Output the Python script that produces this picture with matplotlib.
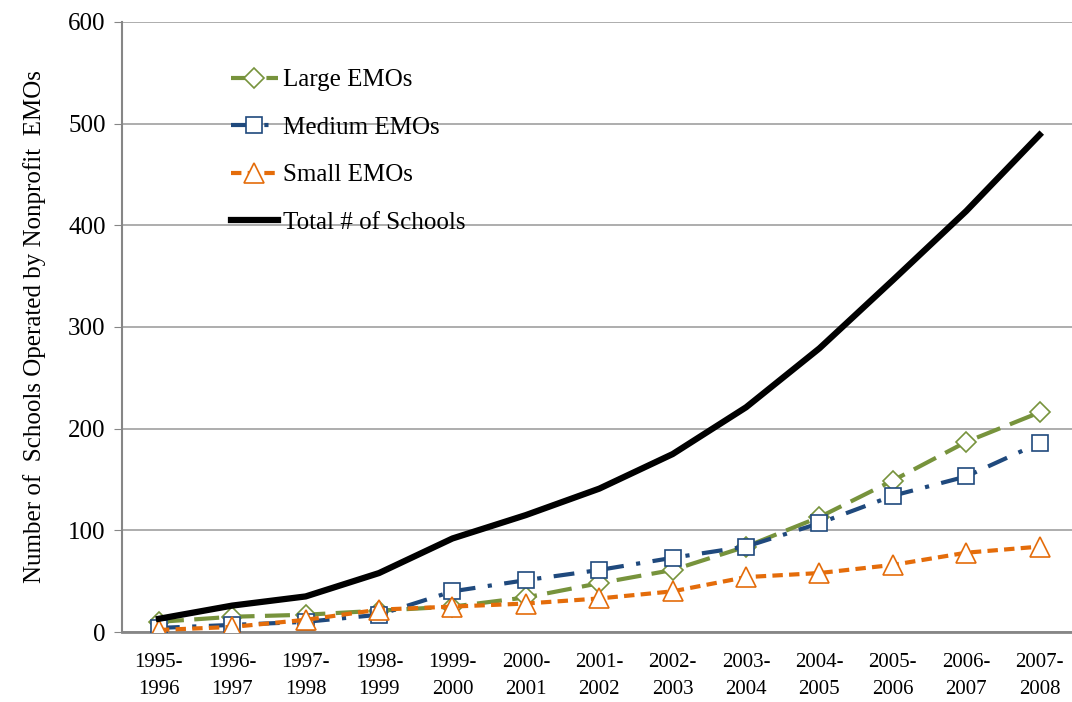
import matplotlib
matplotlib.use("Agg")
import matplotlib.pyplot as plt

years = ["1995-\n1996", "1996-\n1997", "1997-\n1998", "1998-\n1999", "1999-\n2000",
         "2000-\n2001", "2001-\n2002", "2002-\n2003", "2003-\n2004", "2004-\n2005",
         "2005-\n2006", "2006-\n2007", "2007-\n2008"]
large = [10, 15, 17, 21, 25, 34, 48, 61, 84, 113, 149, 187, 216]
medium = [4, 7, 10, 17, 40, 51, 61, 73, 84, 107, 134, 153, 186]
small = [2, 5, 12, 22, 25, 28, 33, 40, 54, 58, 66, 78, 84]
total = [13, 26, 35, 58, 92, 115, 141, 175, 221, 279, 346, 414, 489]

plt.rcParams['font.family'] = ['Liberation Serif', 'DejaVu Serif']

fig = plt.figure(figsize=(10.72, 7.02), dpi=100)
ax = fig.add_axes([0.114, 0.0997, 0.89, 0.869])

x = range(len(years))
ax.plot(x, large, color='#77933C', lw=3, dashes=(6, 2.5), marker='D', ms=10,
        mfc='white', mec='#77933C', mew=1.2, label='Large EMOs', zorder=3)
ax.plot(x, medium, color='#1F497D', lw=3, dashes=(5, 3, 1, 3), marker='s', ms=12,
        mfc='white', mec='#1F497D', mew=1.2, label='Medium EMOs', zorder=3)
ax.plot(x, small, color='#E46C0A', lw=3, dashes=(2.5, 1.5), marker='^', ms=15,
        mfc='white', mec='#E46C0A', mew=1.2, label='Small EMOs', zorder=3)
ax.plot(x, total, color='black', lw=4.5, label='Total # of Schools', zorder=4)

ax.set_xlim(-0.5, len(years) - 0.5)
ax.set_ylim(0, 600)
ax.set_yticks(range(0, 601, 100))
ax.set_xticks(list(x))
ax.set_xticklabels(years, fontsize=15, linespacing=1.6)
ax.tick_params(axis='x', length=0, pad=15)
ax.tick_params(axis='y', labelsize=18, length=6, color='#868686', direction='out', pad=6)
ax.grid(axis='y', color='#A0A0A0', lw=1.2)
ax.set_axisbelow(True)
for s in ['top', 'right']:
    ax.spines[s].set_visible(False)
ax.spines['left'].set_color('#868686')
ax.spines['left'].set_linewidth(1.5)
ax.spines['bottom'].set_color('#868686')
ax.spines['bottom'].set_linewidth(2)
ax.set_ylabel('Number of  Schools Operated by Nonprofit  EMOs', fontsize=18, labelpad=16)

ax.legend(loc='upper left', bbox_to_anchor=(0.09, 0.96), frameon=False, fontsize=18,
          labelspacing=1.0, handlelength=1.9, handletextpad=0.2)

fig.savefig('out.png', dpi=100)
